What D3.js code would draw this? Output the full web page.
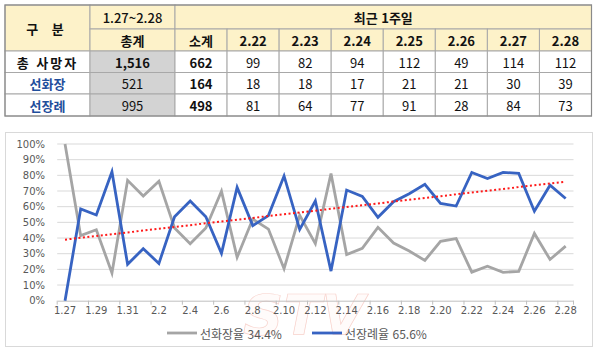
<!DOCTYPE html>
<html lang="ko">
<head>
<meta charset="utf-8">
<script src="https://cdn.jsdelivr.net/npm/d3@7"></script>
<style>
  html, body { margin: 0; padding: 0; background: #fff; }
  svg { display: block; }
</style>
</head>
<body>
<svg id="chart" width="600" height="350"></svg>
<script>
// ---- summary table ----
const tableDates = ["2.22", "2.23", "2.24", "2.25", "2.26", "2.27", "2.28"];
const rowLabels = ["총 사망자", "선화장", "선장례"];
const periodLabel = "1.27~2.28";
const periodTotals = [1516, 521, 995];
const weekSubtotals = [662, 164, 498];
const dailyTotal = [99, 82, 94, 112, 49, 114, 112];
const dailyCremation = [18, 18, 17, 21, 21, 30, 39];
const dailyFuneral = [81, 64, 77, 91, 28, 84, 73];

// ---- daily share chart (percent) ----
const days = ["1.27", "1.28", "1.29", "1.30", "1.31",
  "2.1", "2.2", "2.3", "2.4", "2.5", "2.6", "2.7", "2.8", "2.9", "2.10",
  "2.11", "2.12", "2.13", "2.14", "2.15", "2.16", "2.17", "2.18", "2.19", "2.20",
  "2.21", "2.22", "2.23", "2.24", "2.25", "2.26", "2.27", "2.28"];
const cremationRate = [100, 41.5, 45.3, 17.7, 76.8, 66.8, 76.2, 46.4, 36.4, 46.4,
  69.8, 27.7, 52.1, 45.7, 20.4, 54.5, 36.4, 81.1, 29.4, 33.4, 46.8, 36.8, 31.7,
  25.7, 37.9, 39.6, 18.2, 22.0, 18.1, 18.75, 42.9, 26.3, 34.8];
const funeralRate = [0, 58.5, 54.7, 82.3, 23.2, 33.2, 23.8, 53.6, 63.6, 53.6,
  30.2, 72.3, 47.9, 54.3, 79.6, 45.5, 63.6, 18.9, 70.6, 66.6, 53.2, 63.2, 68.3,
  74.3, 62.1, 60.4, 81.8, 78.0, 81.9, 81.25, 57.1, 73.7, 65.2];
const yTicks = [0, 10, 20, 30, 40, 50, 60, 70, 80, 90, 100];
const legendNames = ["선화장율", "선장례율"];
const legendShares = [34.4, 65.6];

const svg = d3.select("#chart");
const KR = "'Noto Sans CJK KR', 'Noto Sans', sans-serif";
const fmt = d3.format(",");

// ================= table =================
const colEdges = [5, 90, 175];
for (let i = 1; i <= 8; i++) colEdges.push(175 + i * (591.5 - 175) / 8);
const rowEdges = [5, 29, 51, 72.5, 94, 116];
const headFill = "#fdf2c9", grayFill = "#d3d3d3", lineCol = "#a8a8a8";
const tbl = svg.append("g");

function cell(c0, c1, r0, r1, fill) {
  tbl.append("rect")
    .attr("x", colEdges[c0]).attr("y", rowEdges[r0])
    .attr("width", colEdges[c1] - colEdges[c0])
    .attr("height", rowEdges[r1] - rowEdges[r0])
    .attr("fill", fill).attr("stroke", lineCol).attr("stroke-width", 1);
}
function txt(c0, c1, r, s, opts = {}) {
  tbl.append("text")
    .attr("x", (colEdges[c0] + colEdges[c1]) / 2)
    .attr("y", (rowEdges[r] + rowEdges[r + 1]) / 2 + 0.5)
    .attr("text-anchor", "middle").attr("dominant-baseline", "central")
    .attr("font-family", KR).attr("font-size", opts.size || 13)
    .attr("font-weight", opts.bold ? 700 : (opts.weight || 400))
    .attr("letter-spacing", opts.ls || 0)
    .attr("fill", opts.color || "#111").text(s);
}

// header
cell(0, 1, 0, 2, headFill);
cell(1, 2, 0, 1, headFill);
cell(1, 2, 1, 2, headFill);
cell(2, 10, 0, 1, headFill);
for (let c = 2; c < 10; c++) cell(c, c + 1, 1, 2, headFill);
tbl.append("text")
  .attr("x", (colEdges[0] + colEdges[1]) / 2).attr("y", (rowEdges[0] + rowEdges[2]) / 2 + 0.5)
  .attr("text-anchor", "middle").attr("dominant-baseline", "central")
  .attr("font-family", KR).attr("font-size", 13).attr("font-weight", 700)
  .attr("letter-spacing", 5).attr("fill", "#111").text("구 분");
txt(1, 2, 0, periodLabel, { size: 13, weight: 500 });
txt(1, 2, 1, "총계", { bold: true });
txt(2, 10, 0, "최근 1주일", { bold: true });
txt(2, 3, 1, "소계", { bold: true });
tableDates.forEach((d, i) => txt(3 + i, 4 + i, 1, d, { bold: true }));

// body
const dailyRows = [dailyTotal, dailyCremation, dailyFuneral];
rowLabels.forEach((lab, r) => {
  const row = r + 2;
  cell(0, 1, row, row + 1, "#fff");
  cell(1, 2, row, row + 1, grayFill);
  for (let c = 2; c < 10; c++) cell(c, c + 1, row, row + 1, "#fff");
  txt(0, 1, row, lab, r === 0 ? { bold: true, ls: 2 } : { bold: true, color: "#1f4e9c" });
  txt(1, 2, row, fmt(periodTotals[r]), { bold: r === 0 });
  txt(2, 3, row, fmt(weekSubtotals[r]), { bold: true });
  dailyRows[r].forEach((v, i) => txt(3 + i, 4 + i, row, fmt(v)));
});
tbl.append("rect")
  .attr("x", colEdges[0]).attr("y", rowEdges[0])
  .attr("width", colEdges[10] - colEdges[0]).attr("height", rowEdges[5] - rowEdges[0])
  .attr("fill", "none").attr("stroke", "#8a8a8a").attr("stroke-width", 1.2);

// ================= line chart =================
svg.append("rect")
  .attr("x", 5.5).attr("y", 132.5).attr("width", 587).attr("height", 214)
  .attr("fill", "#fff").attr("stroke", "#d9d9d9");

// faint station mark behind the plot
svg.append("text").attr("x", 304).attr("y", 334)
  .attr("text-anchor", "middle")
  .attr("font-family", "'DejaVu Sans', sans-serif").attr("font-size", 56)
  .attr("font-weight", 700).attr("font-style", "italic")
  .attr("fill", "rgba(255,240,236,0.35)").attr("stroke", "#f4b4aa")
  .attr("stroke-width", 0.7).attr("opacity", 0.6).text("STV");

const x = d3.scaleBand().domain(days).range([57.2, 573.5]).paddingInner(0).paddingOuter(0);
const y = d3.scaleLinear().domain([0, 100]).range([300.7, 144]);
const cx = d => x(d) + x.bandwidth() / 2;

// gridlines
svg.append("g").selectAll("line").data(yTicks.filter(t => t > 0)).join("line")
  .attr("x1", 57.2).attr("x2", 573.5)
  .attr("y1", d => y(d)).attr("y2", d => y(d))
  .attr("stroke", "#d9d9d9").attr("stroke-width", 1);

// y axis labels
const yAxis = d3.axisLeft(y).tickValues(yTicks).tickSize(0).tickPadding(0)
  .tickFormat(d => d + "%");
svg.append("g").attr("transform", "translate(45,0)").call(yAxis)
  .call(g => g.select(".domain").remove())
  .selectAll("text")
  .attr("font-family", "'DejaVu Sans', sans-serif").attr("font-size", 10)
  .attr("fill", "#595959");

// x axis
const xAxis = d3.axisBottom(x)
  .tickValues(days.filter((d, i) => i % 2 === 0))
  .tickSize(0).tickPadding(6);
const gx = svg.append("g").attr("transform", "translate(0,300.7)").call(xAxis);
gx.select(".domain").attr("stroke", "#bfbfbf");
gx.selectAll("text")
  .attr("font-family", "'DejaVu Sans', sans-serif").attr("font-size", 10)
  .attr("fill", "#595959");
// tick marks at the left edge of each labeled category
gx.append("g").selectAll("line")
  .data(days.filter((d, i) => i % 2 === 0).concat(["__end"])).join("line")
  .attr("x1", d => d === "__end" ? 573.5 : x(d))
  .attr("x2", d => d === "__end" ? 573.5 : x(d))
  .attr("y1", 0).attr("y2", 4).attr("stroke", "#bfbfbf");

// series lines
const line = d3.line().x((d, i) => cx(days[i])).y(d => y(d));
svg.append("path").datum(cremationRate).attr("d", line)
  .attr("fill", "none").attr("stroke", "#a5a5a5").attr("stroke-width", 2.8)
  .attr("stroke-linejoin", "miter");
svg.append("path").datum(funeralRate).attr("d", line)
  .attr("fill", "none").attr("stroke", "#3763c2").attr("stroke-width", 2.8)
  .attr("stroke-linejoin", "miter");

// linear trend of the funeral share
const n = funeralRate.length;
const mi = (n - 1) / 2, my = d3.mean(funeralRate);
const slope = d3.sum(funeralRate, (v, i) => (i - mi) * (v - my)) /
  d3.sum(funeralRate, (v, i) => (i - mi) * (i - mi));
const icpt = my - slope * mi;
svg.append("line")
  .attr("x1", cx(days[0])).attr("y1", y(icpt))
  .attr("x2", cx(days[n - 1])).attr("y2", y(icpt + slope * (n - 1)))
  .attr("stroke", "#ff1a1a").attr("stroke-width", 2).attr("stroke-dasharray", "2,2.5");

// legend
const legColors = ["#a5a5a5", "#3763c2"];
const legX = [167, 312];
legendNames.forEach((name, i) => {
  svg.append("line").attr("x1", legX[i]).attr("x2", legX[i] + 30)
    .attr("y1", 333).attr("y2", 333)
    .attr("stroke", legColors[i]).attr("stroke-width", 2.8);
  svg.append("text").attr("x", legX[i] + 33).attr("y", 333)
    .attr("dominant-baseline", "central")
    .attr("font-family", KR).attr("font-size", 12).attr("fill", "#595959")
    .text(name + " " + legendShares[i] + "%");
});
</script>
</body>
</html>
